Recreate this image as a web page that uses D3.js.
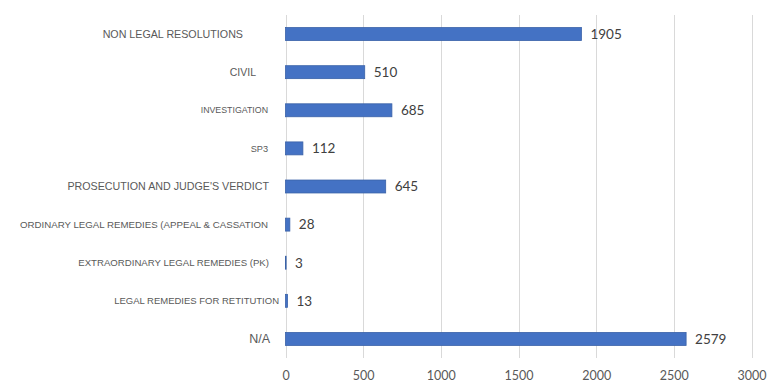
<!DOCTYPE html>
<html>
<head>
<meta charset="utf-8">
<script src="https://cdn.jsdelivr.net/npm/d3@7"></script>
<style>
  html, body { margin: 0; padding: 0; background: #fff; }
  svg { display: block; }
</style>
</head>
<body>
<svg id="chart" width="773" height="390"></svg>
<script>
// ---- data ----
const categories = [
  "NON LEGAL RESOLUTIONS",
  "CIVIL",
  "INVESTIGATION",
  "SP3",
  "PROSECUTION AND JUDGE'S VERDICT",
  "ORDINARY LEGAL REMEDIES (APPEAL & CASSATION",
  "EXTRAORDINARY LEGAL REMEDIES (PK)",
  "LEGAL REMEDIES FOR RETITUTION",
  "N/A"
];
const values = [1905, 510, 685, 112, 645, 28, 3, 13, 2579];
const xTicks = [0, 500, 1000, 1500, 2000, 2500, 3000];

// ---- per-label styling (font size, right-edge shift) ----
const labelSize = [10.7, 10.5, 8.8, 9.2, 10.7, 9.7, 9.65, 9.5, 12.5];
const labelShift = [-26, -13, -1, -1, 0, -1, 0, 10, 1];

const svg = d3.select("#chart");

const x = d3.scaleLinear().domain([0, 3000]).range([285.5, 751.5]);
const y = d3.scaleBand().domain(categories).range([15, 358])
  .paddingInner(0.66).paddingOuter(0.33);

// gridlines
svg.append("g")
  .selectAll("line")
  .data(xTicks)
  .join("line")
  .attr("x1", d => Math.round(x(d)) + 0.5)
  .attr("x2", d => Math.round(x(d)) + 0.5)
  .attr("y1", 15)
  .attr("y2", 358)
  .attr("stroke", "#d9d9d9")
  .attr("stroke-width", 1);

// x axis tick labels
const xAxis = d3.axisBottom(x).tickValues(xTicks).tickFormat(d3.format("d"))
  .tickSize(0).tickPadding(0);
const gx = svg.append("g").attr("transform", "translate(0,371)").call(xAxis);
gx.select(".domain").remove();
gx.selectAll("text")
  .attr("font-family", "Lato, 'Open Sans', sans-serif")
  .attr("font-size", 12.5)
  .attr("fill", "#595959")
  .attr("dy", "0.71em");

// bars
svg.append("g")
  .selectAll("rect")
  .data(values)
  .join("rect")
  .attr("x", x(0))
  .attr("y", (d, i) => y(categories[i]))
  .attr("width", d => Math.max(0.6, x(d) - x(0)))
  .attr("height", y.bandwidth())
  .attr("fill", "#4472c4")
  .attr("stroke", "#3a62a8")
  .attr("stroke-width", 0.8);

// value labels
svg.append("g")
  .selectAll("text")
  .data(values)
  .join("text")
  .attr("x", d => x(d) + 9)
  .attr("y", (d, i) => y(categories[i]) + y.bandwidth() / 2)
  .attr("dy", "0.36em")
  .attr("font-family", "Lato, 'Open Sans', sans-serif")
  .attr("font-size", 13.5)
  .attr("fill", "#404040")
  .text(d => d);

// category labels
svg.append("g")
  .selectAll("text")
  .data(categories)
  .join("text")
  .attr("x", (d, i) => 269 + labelShift[i])
  .attr("y", d => y(d) + y.bandwidth() / 2)
  .attr("dy", "0.36em")
  .attr("text-anchor", "end")
  .attr("font-family", "'Liberation Sans', Arial, sans-serif")
  .attr("font-size", (d, i) => labelSize[i])
  .attr("fill", "#595959")
  .text(d => d);
</script>
</body>
</html>
